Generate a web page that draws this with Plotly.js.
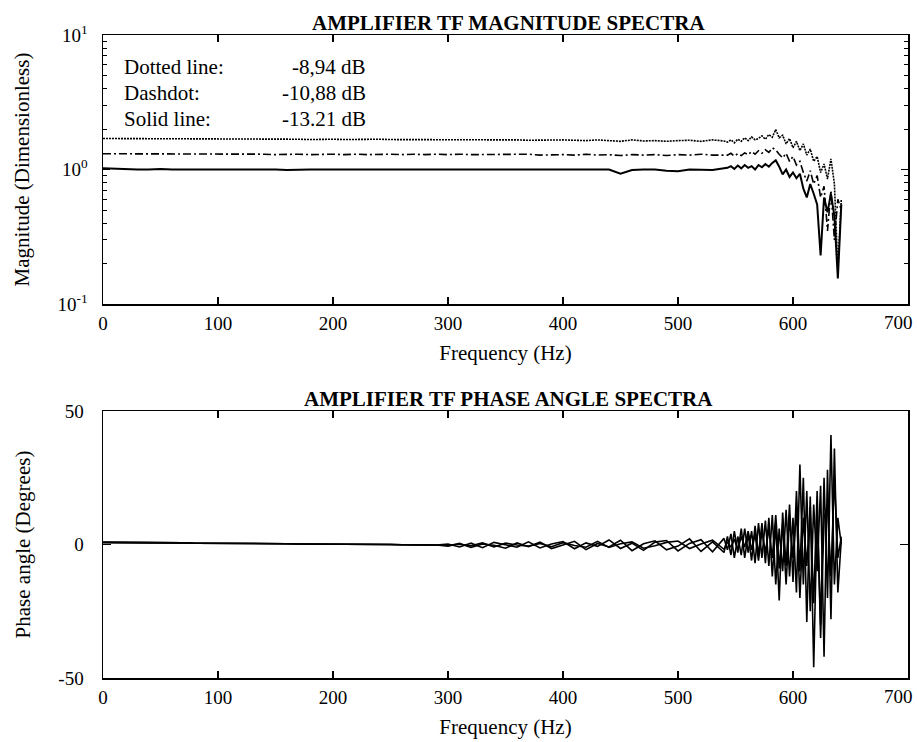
<!DOCTYPE html>
<html>
<head>
<meta charset="utf-8">
<script src="https://cdn.plot.ly/plotly-3.0.1.min.js"></script>
<style>
html,body{margin:0;padding:0;background:#fff;}
#chart{width:917px;height:742px;}
</style>
</head>
<body>
<div id="chart"></div>
<script>
// Frequency grid (Hz)
var freq = [0,10,20,30,40,50,60,70,80,90,100,110,120,130,140,150,160,170,180,190,200,210,220,230,240,250,260,270,280,290,300,310,320,330,340,350,360,370,380,390,400,410,420,430,440,450,460,470,480,490,500,510,520,530,540,
543,546,549,552,555,558,561,564,567,570,573,576,579,582,585,588,591,594,597,600,603,606,609,612,615,618,621,624,627,630,633,636,639,642];

// Magnitude (dimensionless)
var magDotted = [1.70,1.70,1.69,1.70,1.69,1.69,1.70,1.69,1.69,1.68,
1.69,1.68,1.69,1.68,1.68,1.69,1.68,1.68,1.67,1.68,
1.68,1.67,1.68,1.67,1.68,1.67,1.67,1.68,1.67,1.66,
1.67,1.66,1.67,1.66,1.66,1.67,1.66,1.65,1.66,1.65,
1.66,1.65,1.64,1.66,1.65,1.62,1.66,1.63,1.64,1.62,
1.64,1.65,1.62,1.66,1.63,
1.60,1.66,1.58,1.68,1.62,1.72,1.64,1.75,1.66,1.70,1.78,1.68,1.82,1.74,1.98,1.72,1.80,1.55,1.70,1.45,1.62,1.38,1.55,1.28,1.42,1.15,1.25,0.95,1.10,0.85,1.20,0.78,0.18,0.60];

var magDashdot = [1.31,1.31,1.30,1.31,1.30,1.30,1.31,1.30,1.30,1.30,
1.30,1.30,1.31,1.30,1.30,1.29,1.30,1.30,1.29,1.30,
1.30,1.29,1.30,1.29,1.30,1.30,1.29,1.30,1.29,1.30,
1.29,1.30,1.29,1.29,1.30,1.29,1.29,1.30,1.28,1.29,
1.29,1.28,1.30,1.28,1.29,1.27,1.29,1.28,1.29,1.27,
1.29,1.28,1.30,1.28,1.29,
1.28,1.32,1.26,1.31,1.27,1.33,1.29,1.36,1.30,1.38,1.32,1.40,1.34,1.45,1.40,1.30,1.22,1.32,1.15,1.25,1.08,1.15,0.95,0.82,0.98,0.78,0.90,0.62,0.75,0.35,0.70,0.30,0.60,0.50];

var magSolid = [1.02,1.01,1.01,1.00,1.00,1.01,1.00,1.00,1.01,1.00,
1.00,1.01,1.00,1.00,1.00,1.00,0.99,1.00,1.00,1.00,
1.00,0.99,1.00,1.00,0.99,1.00,1.00,0.99,1.00,1.00,
0.99,1.00,1.00,0.99,1.00,0.99,1.00,0.99,1.00,1.00,
0.99,1.00,1.00,0.99,1.00,0.93,0.99,1.00,1.00,0.98,
0.97,1.00,1.00,0.99,1.02,
1.03,1.06,1.01,1.07,1.02,1.08,1.03,1.06,1.00,1.08,1.04,1.10,1.05,1.12,1.17,1.05,0.92,1.00,0.88,0.95,0.86,0.93,0.72,0.62,0.78,0.66,0.55,0.23,0.62,0.48,0.66,0.45,0.155,0.55];

// Phase angle (degrees)
var phaseA = [0.8,0.8,0.7,0.7,0.7,0.6,0.6,0.6,0.5,0.5,
0.5,0.4,0.4,0.4,0.3,0.3,0.3,0.2,0.2,0.2,
0.1,0.1,0.1,0.0,0.0,0.0,-0.1,-0.1,-0.1,-0.2,
-0.6,0.4,-1.1,0.2,-0.3,-1.4,0.6,-0.8,0.9,-1.5,
-0.2,1.2,-1.9,0.4,-0.9,1.6,-2.3,0.3,1.4,-2.0,
-0.6,2.1,-2.6,1.0,-3.0,
3,-4,5,-3,6,-5,4,-6,7,-4,8,-7,10,-12,8,-21,12,-8,15,-14,20,-10,25,-29,18,-46,12,-30,25,-20,41,-15,10,0];

var phaseB = [0.8,0.8,0.7,0.7,0.7,0.6,0.6,0.6,0.5,0.5,
0.5,0.4,0.4,0.4,0.3,0.3,0.3,0.2,0.2,0.2,
0.1,0.1,0.1,0.0,0.0,0.0,-0.1,-0.1,-0.1,-0.2,
0.2,-0.9,0.5,-1.2,0.8,-0.1,-1.0,1.0,-1.3,0.2,
1.1,-1.6,0.6,-0.7,1.7,-1.5,0.5,-2.2,0.9,1.5,
-2.4,0.4,1.8,-2.7,2.3,
-2,4,-5,3,-4,6,-3,5,-7,8,-5,9,-8,11,-15,6,-10,13,-12,10,-18,30,-15,20,-25,15,-10,22,-42,28,-28,36,-18,2];

var phaseC = [0.8,0.8,0.7,0.7,0.7,0.6,0.6,0.6,0.5,0.5,
0.5,0.4,0.4,0.4,0.3,0.3,0.3,0.2,0.2,0.2,
0.1,0.1,0.1,0.0,0.0,0.0,-0.1,-0.1,-0.1,-0.2,
-0.3,0.1,-0.5,0.6,-0.9,0.5,-0.2,-0.6,0.4,-0.8,
0.7,-0.4,-1.0,1.2,-1.1,0.3,1.0,-1.4,-0.5,0.8,
1.3,-1.5,0.2,1.6,-1.8,
1,-1,2,-2,3,-1,5,-2,4,-6,5,-3,6,-5,11,-9,8,-15,10,-5,13,-20,10,-8,14,-22,20,-35,10,15,-12,25,-5,3];

// Tick labels (the last one, 700, sits at the page edge and is placed as an annotation)
var freqTicks = [0,100,200,300,400,500,600,700];
var freqTickText = ['0','100','200','300','400','500','600',''];
var freqEdgeLabel = '700';
var magTickVals = [0.1,1,10];
var magTickText = ['10<sup>-1</sup>','10<sup>0</sup>','10<sup>1</sup>'];
var magMinorVals = [0.2,0.3,0.4,0.5,0.6,0.7,0.8,0.9,2,3,4,5,6,7,8,9];
var phaseTicks = [-50,0,50];

var legendLabels = ['Dotted line:','Dashdot:','Solid line:'];
var legendValues = ['-8,94 dB','-10,88 dB','-13.21 dB'];

var FONT = 'Liberation Serif, Times New Roman, serif';

var traces = [
  {x: freq, y: magDotted, xaxis:'x', yaxis:'y', mode:'lines', line:{color:'#000', width:1.6, dash:'2px,1px'}},
  {x: freq, y: magDashdot, xaxis:'x', yaxis:'y', mode:'lines', line:{color:'#000', width:1.6, dash:'8px,3px,2px,3px'}},
  {x: freq, y: magSolid, xaxis:'x', yaxis:'y', mode:'lines', line:{color:'#000', width:2}},
  {x: freq, y: phaseA, xaxis:'x2', yaxis:'y2', mode:'lines', line:{color:'#000', width:1.6}},
  {x: freq, y: phaseB, xaxis:'x2', yaxis:'y2', mode:'lines', line:{color:'#000', width:1.6}},
  {x: freq, y: phaseC, xaxis:'x2', yaxis:'y2', mode:'lines', line:{color:'#000', width:1.6}}
];

function xAxis(anchor){
  return {
    anchor: anchor, domain:[0,1], range:[0,700],
    tickmode:'array', tickvals: freqTicks, ticktext: freqTickText,
    ticks:'inside', ticklen:7, tickwidth:1.5, tickcolor:'#000',
    showline:true, mirror:'allticks', linecolor:'#000', linewidth:1.5,
    showgrid:false, zeroline:false, automargin:false,
    tickfont:{family:FONT, size:19, color:'#000'},
    ticklabelstandoff: 2,
    title:{text:'Frequency (Hz)', font:{family:FONT, size:21, color:'#000'}, standoff:12}
  };
}

var layout = {
  width:917, height:742,
  margin:{l:103, r:9, t:35, b:64},
  paper_bgcolor:'#fff', plot_bgcolor:'#fff',
  showlegend:false,
  font:{family:FONT, color:'#000'},
  xaxis: xAxis('y'),
  xaxis2: xAxis('y2'),
  yaxis: {
    anchor:'x', domain:[0.5816,1], type:'log', range:[-1,1],
    tickmode:'array', tickvals: magTickVals, ticktext: magTickText,
    ticks:'inside', ticklen:7, tickwidth:1.5, tickcolor:'#000',
    minor:{tickmode:'array', tickvals: magMinorVals, ticks:'inside', ticklen:4, tickwidth:1, tickcolor:'#000', showgrid:false},
    showline:true, mirror:'allticks', linecolor:'#000', linewidth:1.5,
    showgrid:false, zeroline:false, automargin:false,
    tickfont:{family:FONT, size:19, color:'#000'},
    ticklabelstandoff: 10,
    title:{text:'Magnitude (Dimensionless)', font:{family:FONT, size:21, color:'#000'}, standoff:22}
  },
  yaxis2: {
    anchor:'x2', domain:[0,0.4152], range:[-50,50],
    tickmode:'array', tickvals: phaseTicks, ticktext: phaseTicks.map(String),
    ticks:'inside', ticklen:8, tickwidth:1.5, tickcolor:'#000',
    showline:true, mirror:'allticks', linecolor:'#000', linewidth:1.5,
    showgrid:false, zeroline:false, automargin:false,
    tickfont:{family:FONT, size:19, color:'#000'},
    ticklabelstandoff: 14,
    title:{text:'Phase angle (Degrees)', font:{family:FONT, size:21, color:'#000'}, standoff:22}
  },
  annotations: [
    {xref:'paper', yref:'paper', x:0.504, y:1.0187, text:'<b>AMPLIFIER TF MAGNITUDE SPECTRA</b>', showarrow:false, xanchor:'center', yanchor:'middle', font:{family:FONT, size:21, color:'#000'}},
    {xref:'paper', yref:'paper', x:0.504, y:0.4339, text:'<b>AMPLIFIER TF PHASE ANGLE SPECTRA</b>', showarrow:false, xanchor:'center', yanchor:'middle', font:{family:FONT, size:21, color:'#000'}},
    {xref:'paper', yref:'paper', x:1, y:0.5521, xshift:7, text:freqEdgeLabel, showarrow:false, xanchor:'right', yanchor:'middle', font:{family:FONT, size:19, color:'#000'}},
    {xref:'paper', yref:'paper', x:1, y:-0.0295, xshift:7, text:freqEdgeLabel, showarrow:false, xanchor:'right', yanchor:'middle', font:{family:FONT, size:19, color:'#000'}}
  ]
};

var rowY = [0.9502, 0.9098, 0.8694];
for (var i = 0; i < legendLabels.length; i++) {
  layout.annotations.push({xref:'paper', yref:'paper', x:0.0236, y:rowY[i], text:legendLabels[i], showarrow:false, xanchor:'left', yanchor:'middle', font:{family:FONT, size:21, color:'#000'}});
  layout.annotations.push({xref:'paper', yref:'paper', x:0.3288, y:rowY[i], text:legendValues[i], showarrow:false, xanchor:'right', yanchor:'middle', font:{family:FONT, size:21, color:'#000'}});
}

Plotly.newPlot('chart', traces, layout, {staticPlot:true, displayModeBar:false});
</script>
</body>
</html>
